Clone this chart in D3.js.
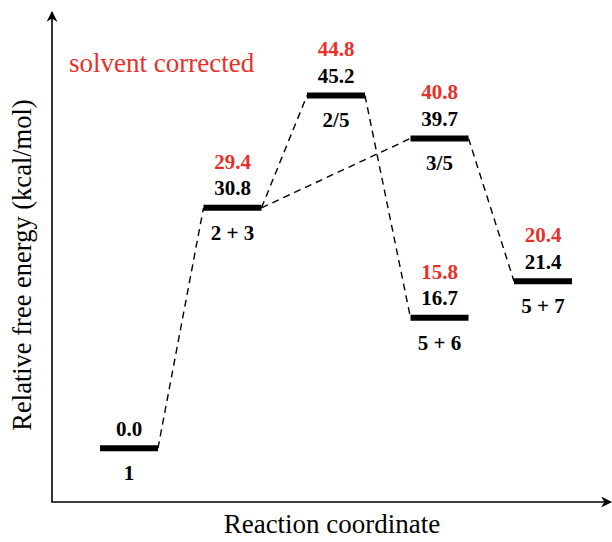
<!DOCTYPE html>
<html><head><meta charset="utf-8">
<script src="https://cdn.jsdelivr.net/npm/d3@7"></script>
<style>body{margin:0;background:#fff}svg{display:block}</style>
</head><body>
<script>
const states = ["1", "2 + 3", "2/5", "3/5", "5 + 6", "5 + 7"];
const slots = [0, 1, 2, 3, 3, 4];
const gasEnergy = [0.0, 30.8, 45.2, 39.7, 16.7, 21.4];
const solventEnergy = [null, 29.4, 44.8, 40.8, 15.8, 20.4];
const links = [[0, 1], [1, 2], [1, 3], [2, 4], [3, 5]];

const W = 612, H = 542;
const FONT = '"Liberation Serif", "Times New Roman", Times, serif';
const svg = d3.select("body").append("svg").attr("width", W).attr("height", H);
const y = d3.scaleLinear().domain([-6.9, 55.9]).range([502, 12]);
const x = d3.scaleLinear().domain([0, 4]).range([129, 543]);
const half = 29;

// axes
const defs = svg.append("defs");
defs.append("marker").attr("id", "arr").attr("viewBox", "0 0 10 10").attr("refX", 9).attr("refY", 5)
  .attr("markerWidth", 11).attr("markerHeight", 11).attr("markerUnits", "userSpaceOnUse").attr("orient", "auto")
  .append("path").attr("d", "M0,0 L10,5 L0,10 L3,5 Z").attr("fill", "#000");
svg.append("line").attr("x1", 52).attr("y1", 502).attr("x2", 52).attr("y2", 12)
  .attr("stroke", "#000").attr("stroke-width", 1.6).attr("marker-end", "url(#arr)");
svg.append("line").attr("x1", 51.2).attr("y1", 502).attr("x2", 611).attr("y2", 502)
  .attr("stroke", "#000").attr("stroke-width", 1.6).attr("marker-end", "url(#arr)");

// connectors
svg.selectAll("line.link").data(links).enter().append("line").attr("class", "link")
  .attr("x1", d => x(slots[d[0]]) + half).attr("y1", d => y(gasEnergy[d[0]]))
  .attr("x2", d => x(slots[d[1]]) - half).attr("y2", d => y(gasEnergy[d[1]]))
  .attr("stroke", "#000").attr("stroke-width", 1.4).attr("stroke-dasharray", "7,5");

// levels
const idx = d3.range(states.length);
svg.selectAll("line.level").data(idx).enter().append("line").attr("class", "level")
  .attr("x1", i => x(slots[i]) - half).attr("x2", i => x(slots[i]) + half)
  .attr("y1", i => y(gasEnergy[i])).attr("y2", i => y(gasEnergy[i]))
  .attr("stroke", "#000").attr("stroke-width", 6);

function txt(sel) {
  return sel.style("font-family", FONT);
}
const lab = svg.append("g");
txt(lab.selectAll("text.g").data(idx).enter().append("text"))
  .attr("x", i => x(slots[i])).attr("y", i => y(gasEnergy[i]) - 12.5)
  .attr("text-anchor", "middle").attr("font-weight", "bold").attr("font-size", 21)
  .text(i => gasEnergy[i].toFixed(1));
txt(lab.selectAll("text.s").data(idx.filter(i => solventEnergy[i] !== null)).enter().append("text"))
  .attr("x", i => x(slots[i])).attr("y", i => y(gasEnergy[i]) - 39)
  .attr("text-anchor", "middle").attr("font-weight", "bold").attr("font-size", 21)
  .attr("fill", "#e8302a").text(i => solventEnergy[i].toFixed(1));
txt(lab.selectAll("text.n").data(idx).enter().append("text"))
  .attr("x", i => x(slots[i])).attr("y", i => y(gasEnergy[i]) + 32)
  .attr("text-anchor", "middle").attr("font-weight", "bold").attr("font-size", 21)
  .text(i => states[i]);

txt(svg.append("text")).attr("x", 69).attr("y", 72).attr("font-size", 27)
  .attr("fill", "#e8302a").text("solvent corrected");
txt(svg.append("text")).attr("transform", "translate(31,265) rotate(-90)").attr("text-anchor", "middle")
  .attr("font-size", 26.5).text("Relative free energy (kcal/mol)");
txt(svg.append("text")).attr("x", 332).attr("y", 533).attr("text-anchor", "middle")
  .attr("font-size", 27).text("Reaction coordinate");
</script>
</body></html>
